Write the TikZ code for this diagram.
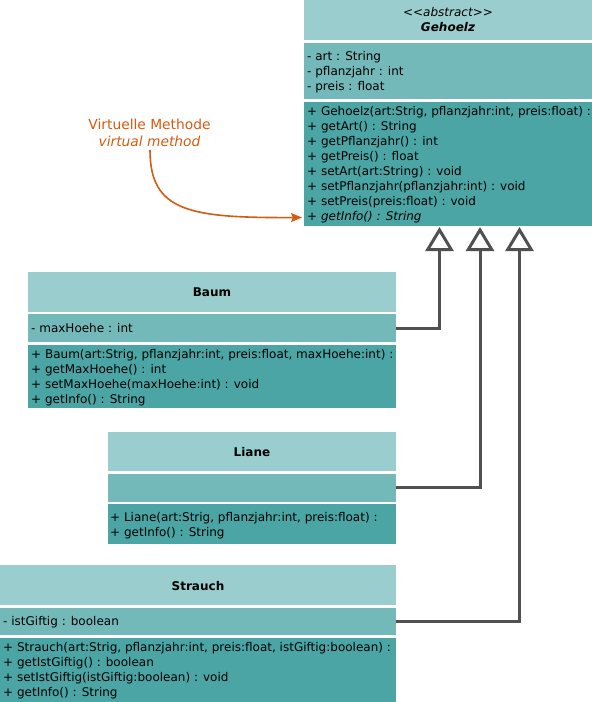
\documentclass[tikz,border=0pt]{standalone}
\usepackage{fontspec}
\newfontfamily\df{DejaVu Sans}
\usetikzlibrary{arrows.meta,calc}
\definecolor{hdr}{RGB}{154,206,206}
\definecolor{att}{RGB}{116,185,185}
\definecolor{mth}{RGB}{75,165,165}
\definecolor{notec}{RGB}{214,90,15}
\definecolor{conn}{RGB}{80,80,80}
\begin{document}
\begin{tikzpicture}[x=1pt,y=-1pt,
  sec/.style={draw=none,inner sep=0pt,outer sep=0pt,anchor=north west},
  txt/.style={anchor=base west,inner sep=0pt,font=\df\fontsize{12}{14}\selectfont},
  ttl/.style={anchor=base,inner sep=0pt,font=\df\fontsize{12}{14}\selectfont\bfseries},
  notetxt/.style={inner sep=0pt,text=notec,font=\df\fontsize{13.8}{16}\selectfont},
  inh/.style={draw=conn,line width=3pt,-{Triangle[open,length=24pt,width=28pt,fill=white]}},
  notearrow/.style={draw=notec,line width=1.6pt,-{Stealth[length=11pt,width=9pt,inset=2pt]}}]
\useasboundingbox (0,0) rectangle (592,702);
% Gehoelz
\node[sec,fill=hdr,minimum width=288pt,minimum height=40pt] (gh) at (304,0) {};
\node[sec,fill=att,minimum width=288pt,minimum height=56pt] (ga) at (304,42.5) {};
\node[sec,fill=mth,minimum width=288pt,minimum height=124.5pt] (gm) at (304,101.5) {};
\node[anchor=base,inner sep=0pt,font=\df\fontsize{12}{14}\selectfont\itshape] (gst) at (448,16.5) {<<abstract>>};
\node[ttl,font=\df\fontsize{12}{14}\selectfont\bfseries\itshape] (gt) at (448,31) {Gehoelz};
\foreach \t [count=\i] in {{- art : String},{- pflanzjahr : int},{- preis : float}}
  \node[txt] (gat\i) at (307,{60+15*(\i-1)}) {\t};
\foreach \t [count=\i] in {{+ Gehoelz(art:Strig, pflanzjahr:int, preis:float) :},{+ getArt() : String},{+ getPflanzjahr() : int},{+ getPreis() : float},{+ setArt(art:String) : void},{+ setPflanzjahr(pflanzjahr:int) : void},{+ setPreis(preis:float) : void}}
  \node[txt] (gmt\i) at (307,{115.5+14.95*(\i-1)}) {\t};
\node[txt] (gmt8) at (307,{115.5+14.95*7}) {\itshape + getInfo() : String};
% Baum
\node[sec,fill=hdr,minimum width=368pt,minimum height=39.5pt] (bh) at (28,272) {};
\node[sec,fill=att,minimum width=368pt,minimum height=28pt] (ba) at (28,314) {};
\node[sec,fill=mth,minimum width=368pt,minimum height=63.5pt] (bm) at (28,344.5) {};
\node[ttl] (bt) at (212,296.5) {Baum};
\node[txt] (bat1) at (31,332.8) {- maxHoehe : int};
\foreach \t [count=\i] in {{+ Baum(art:Strig, pflanzjahr:int, preis:float, maxHoehe:int) :},{+ getMaxHoehe() : int},{+ setMaxHoehe(maxHoehe:int) : void},{+ getInfo() : String}}
  \node[txt] (bmt\i) at (31,{358.8+14.8*(\i-1)}) {\t};
% Liane
\node[sec,fill=hdr,minimum width=288pt,minimum height=39pt] (lh) at (108,432) {};
\node[sec,fill=att,minimum width=288pt,minimum height=27.5pt] (la) at (108,474) {};
\node[sec,fill=mth,minimum width=288pt,minimum height=40pt] (lm) at (108,504) {};
\node[ttl] (lt) at (252,456) {Liane};
\foreach \t [count=\i] in {{+ Liane(art:Strig, pflanzjahr:int, preis:float) :},{+ getInfo() : String}}
  \node[txt] (lmt\i) at (110,{521+15*(\i-1)}) {\t};
% Strauch
\node[sec,fill=hdr,minimum width=396pt,minimum height=40pt] (sh) at (0,565) {};
\node[sec,fill=att,minimum width=396pt,minimum height=27.5pt] (sa) at (0,607.5) {};
\node[sec,fill=mth,minimum width=396pt,minimum height=64pt] (sm) at (0,638) {};
\node[ttl] (st) at (198,590) {Strauch};
\node[txt] (sat1) at (3,625.5) {- istGiftig : boolean};
\foreach \t [count=\i] in {{+ Strauch(art:Strig, pflanzjahr:int, preis:float, istGiftig:boolean) :},{+ getIstGiftig() : boolean},{+ setIstGiftig(istGiftig:boolean) : void},{+ getInfo() : String}}
  \node[txt] (smt\i) at (3,{651.5+14.9*(\i-1)}) {\t};
% inheritance
\coordinate (tb) at (439.5,227);
\coordinate (tl) at (480,227);
\coordinate (ts) at (519.5,227);
\draw[inh] (ba.east) -| (tb);
\draw[inh] (la.east) -| (tl);
\draw[inh] (sa.east) -| (ts);
% note
\node[notetxt] (n1) at (149.5,124) {Virtuelle Methode};
\node[notetxt,font=\df\fontsize{13.8}{16}\selectfont\itshape] (n2) at (149.5,141.7) {virtual method};
\coordinate (vm) at (302,217.5);
\draw[notearrow] (150,150) .. controls (150,212) and (190,218) .. (vm);
\end{tikzpicture}
\end{document}
